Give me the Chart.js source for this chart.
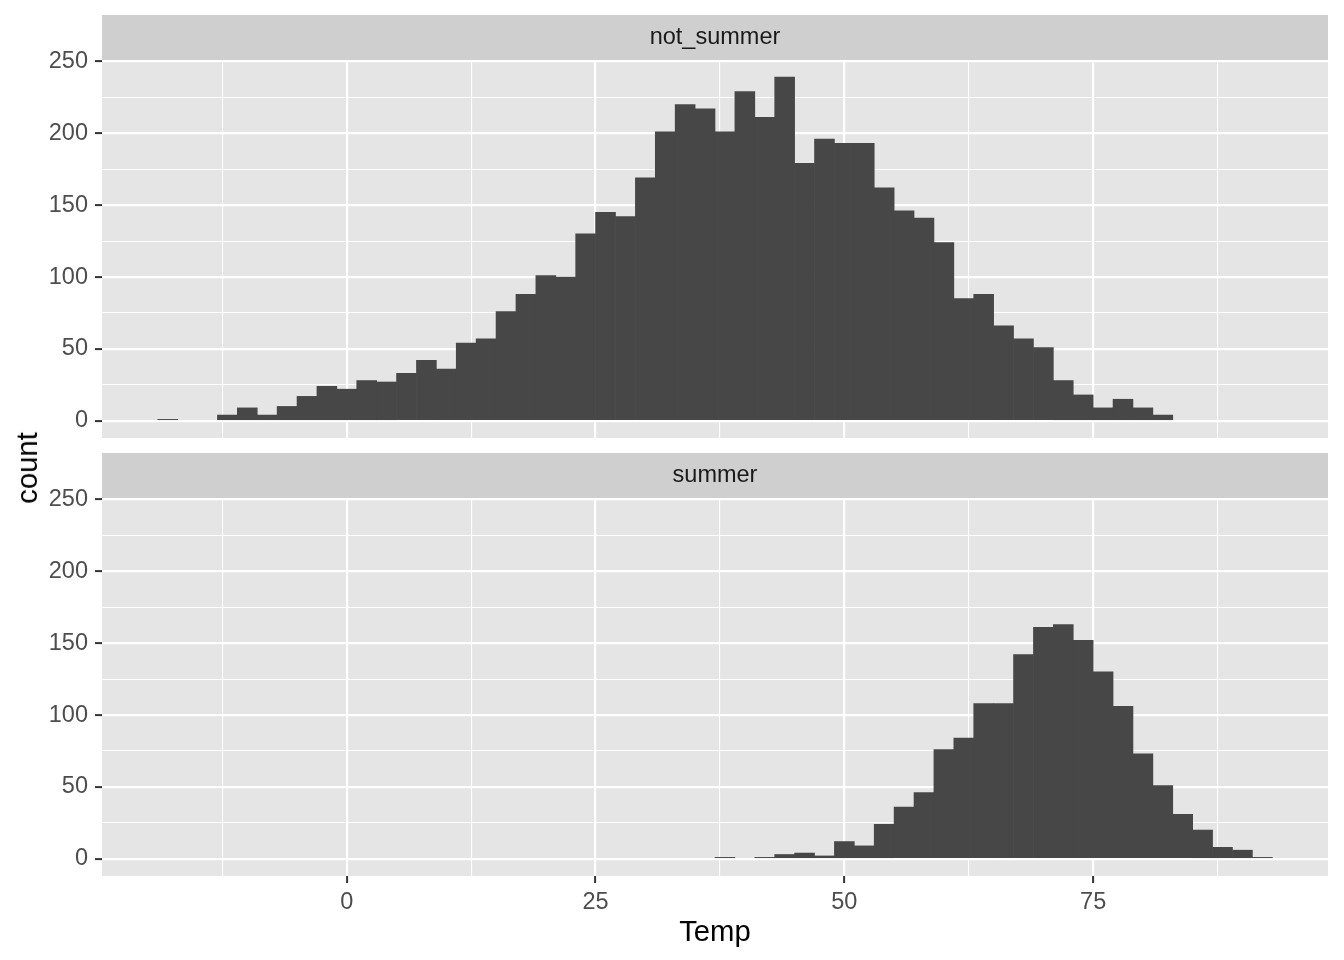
<!DOCTYPE html>
<html>
<head>
<meta charset="utf-8">
<script src="https://cdn.jsdelivr.net/npm/chart.js@4.4.1/dist/chart.umd.min.js"></script>
<style>
  body { margin: 0; background: #fff; }
  #wrap { position: relative; width: 1344px; height: 960px; overflow: hidden; }
  canvas { position: absolute; left: 0; }
  .axtitle { position: absolute; font-family: "Liberation Sans", Arial, sans-serif; font-size: 29.3px; color: #000; white-space: nowrap; }
</style>
</head>
<body>
<div id="wrap">
  <canvas id="top" width="1344" height="468" style="top:0"></canvas>
  <canvas id="bottom" width="1344" height="522" style="top:438px"></canvas>
  <div class="axtitle" style="left:27px; top:468px; transform: translate(-50%,-50%) rotate(-90deg);">count</div>
  <div class="axtitle" style="left:715px; top:931px; transform: translate(-50%,-50%);">Temp</div>
</div>
<script>
// histogram of Temp, binwidth 2, one facet per season
const notSummerBins = [-18, -16, -14, -12, -10, -8, -6, -4, -2, 0, 2, 4, 6, 8, 10, 12, 14, 16, 18, 20,
  22, 24, 26, 28, 30, 32, 34, 36, 38, 40, 42, 44, 46, 48, 50, 52, 54, 56, 58, 60,
  62, 64, 66, 68, 70, 72, 74, 76, 78, 80, 82]
const notSummerCounts = [1, 0, 0, 4, 9, 4, 10, 17, 24, 22, 28, 27, 33, 42, 36, 54, 57, 76, 88, 101,
  100, 130, 145, 142, 169, 201, 220, 217, 201, 229, 211, 239, 179, 196, 193, 193, 162, 146, 141, 124,
  85, 88, 66, 57, 51, 28, 18, 9, 15, 9, 4]

const summerBins = [38, 40, 42, 44, 46, 48, 50, 52, 54, 56, 58, 60, 62, 64, 66, 68, 70, 72, 74, 76,
  78, 80, 82, 84, 86, 88, 90, 92]
const summerCounts = [1, 0, 1, 3, 4, 2, 12, 9, 24, 36, 46, 76, 84, 108, 108, 142, 161, 163, 152, 130,
  106, 73, 51, 31, 20, 8, 6, 1]

const yTicks = [0, 25, 50, 75, 100, 125, 150, 175, 200, 225, 250]
const xTicks = [-12.5, 0, 12.5, 25, 37.5, 50, 62.5, 75, 87.5]

const FONT = '"Liberation Sans", Arial, sans-serif'
const BAR = '#474747'

// grey panel + facet strip
const panelBg = {
  id: 'panelBg',
  beforeDraw(chart, args, opts) {
    const {ctx, chartArea: a} = chart
    ctx.save()
    ctx.fillStyle = '#E5E5E5'
    ctx.fillRect(a.left, a.top, a.right - a.left, a.bottom - a.top)
    ctx.fillStyle = '#CFCFCF'
    ctx.fillRect(a.left, a.top - 45, a.right - a.left, 45)
    ctx.fillStyle = '#1A1A1A'
    ctx.font = '23.5px ' + FONT
    ctx.textAlign = 'center'
    ctx.textBaseline = 'middle'
    ctx.fillText(opts.label, (a.left + a.right) / 2, a.top - 22.5)
    ctx.restore()
  }
}

// bottomSpace: room under the panel (x labels in the lower facet, empty in the upper one)
function makePanel(id, label, bins, counts, showX, bottomSpace) {
  const data = bins.map((b, i) => ({x: b, y: counts[i] || null}))
  return new Chart(document.getElementById(id), {
    type: 'bar',
    data: {
      datasets: [{
        label: label,
        data: data,
        backgroundColor: BAR,
        borderWidth: 0,
        barPercentage: 1,
        categoryPercentage: 1
      }]
    },
    plugins: [panelBg],
    options: {
      responsive: false,
      animation: false,
      events: [],
      layout: { autoPadding: false, padding: { top: 60, right: 16, left: 0, bottom: 0 } },
      plugins: {
        legend: { display: false },
        tooltip: { enabled: false },
        panelBg: { label: label }
      },
      scales: {
        x: {
          type: 'linear',
          min: -24.6,
          max: 98.6,
          offset: false,
          afterBuildTicks: s => { s.ticks = xTicks.map(v => ({value: v})) },
          afterFit: s => { s.height = bottomSpace },
          border: { display: false },
          grid: {
            offset: false,
            color: '#FFFFFF',
            lineWidth: c => (c.tick && c.tick.value % 25 === 0) ? 2.2 : 1.1,
            drawTicks: showX,
            tickLength: 7,
            tickWidth: 2,
            tickColor: c => (c.tick && c.tick.value % 25 === 0) ? '#333333' : 'rgba(0,0,0,0)'
          },
          ticks: {
            display: showX,
            autoSkip: false,
            maxRotation: 0,
            padding: 5,
            color: '#4D4D4D',
            font: { family: FONT, size: 23.5 },
            callback: v => v % 25 === 0 ? v : ''
          }
        },
        y: {
          min: -11.95,
          max: 250.95,
          afterBuildTicks: s => { s.ticks = yTicks.map(v => ({value: v})) },
          afterFit: s => { s.width = 102 },
          border: { display: false },
          grid: {
            color: '#FFFFFF',
            lineWidth: c => (c.tick && c.tick.value % 50 === 0) ? 2.2 : 1.1,
            tickLength: 7,
            tickWidth: 2,
            tickColor: c => (c.tick && c.tick.value % 50 === 0) ? '#333333' : 'rgba(0,0,0,0)'
          },
          ticks: {
            autoSkip: false,
            padding: 7,
            color: '#4D4D4D',
            font: { family: FONT, size: 23.5 },
            callback: v => v % 50 === 0 ? v : ''
          }
        }
      }
    }
  })
}

makePanel('top', 'not_summer', notSummerBins, notSummerCounts, false, 30)
makePanel('bottom', 'summer', summerBins, summerCounts, true, 84)
</script>
</body>
</html>
